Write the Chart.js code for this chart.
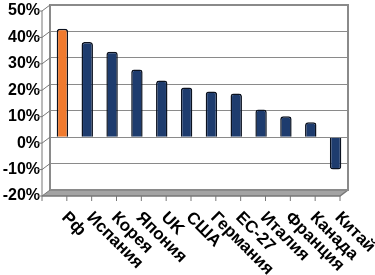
<!DOCTYPE html>
<html lang="ru">
<head>
  <meta charset="UTF-8">
  <title>Рост по странам</title>
  <script src="https://cdn.jsdelivr.net/npm/chart.js"></script>
  <style>
    html, body { margin: 0; padding: 0; background: #fff; }
    #caja { width: 375px; height: 275px; }
  </style>
</head>
<body>
  <div id="caja"><canvas id="grafico"></canvas></div>

  <script>
    // datos
    const paises = ['Рф', 'Испания', 'Корея', 'Япония', 'UK', 'США', 'Германия', 'ЕС-27', 'Италия', 'Франция', 'Канада', 'Китай'];
    const valores = [41, 36, 32.3, 25.6, 21.4, 18.8, 17.3, 16.5, 10.5, 7.9, 5.6, -12.2];
    const ticksY = [-20, -10, 0, 10, 20, 30, 40, 50];

    const fuente = '"Liberation Sans", Arial, sans-serif';
    const gris = '#8a8a8a';
    const dx = 8, dy = 6; // desplazamiento del plano frontal

    // paredes, suelo y ejes en falso 3D
    const marco3d = {
      id: 'marco3d',
      beforeDatasetsDraw(chart) {
        const { ctx, chartArea: a, scales } = chart;
        const L = a.left, R = a.right, T = a.top, B = a.bottom;
        ctx.save();
        // suelo
        ctx.fillStyle = '#a3a3a3';
        ctx.beginPath();
        ctx.moveTo(L, B);
        ctx.lineTo(R, B);
        ctx.lineTo(R - dx, B + dy);
        ctx.lineTo(L - dx, B + dy);
        ctx.closePath();
        ctx.fill();
        ctx.strokeStyle = '#777';
        ctx.lineWidth = 1.5;
        ctx.beginPath();
        ctx.moveTo(L - dx, B + dy);
        ctx.lineTo(R - dx, B + dy);
        ctx.lineTo(R, B);
        ctx.stroke();
        // pared del fondo
        ctx.strokeStyle = gris;
        ctx.lineWidth = 2;
        ctx.strokeRect(L, T, R - L, B - T);
        // eje frontal izquierdo
        ctx.lineWidth = 1;
        ctx.strokeStyle = '#777';
        ctx.beginPath();
        ctx.moveTo(L - dx, T + dy);
        ctx.lineTo(L - dx, B + dy);
        ticksY.forEach(v => {
          const y = scales.y.getPixelForValue(v);
          ctx.moveTo(L - dx - 4, y + dy);
          ctx.lineTo(L - dx, y + dy);
          ctx.lineTo(L, y);
        });
        // marcas del eje x
        const sx = scales.x;
        for (let i = 0; i <= paises.length; i++) {
          let bx;
          if (i === 0) bx = L;
          else if (i === paises.length) bx = R;
          else bx = (sx.getPixelForValue(i - 1) + sx.getPixelForValue(i)) / 2;
          ctx.moveTo(bx - dx, B + dy);
          ctx.lineTo(bx - dx, B + dy + 5);
        }
        ctx.stroke();
        ctx.restore();
      },
      afterDraw(chart) {
        const { ctx, chartArea: a, scales } = chart;
        ctx.save();
        ctx.fillStyle = '#000';
        ctx.font = 'bold 17px ' + fuente;
        ctx.textAlign = 'left';
        ctx.textBaseline = 'middle';
        paises.forEach((p, i) => {
          const x = scales.x.getPixelForValue(i);
          ctx.save();
          ctx.translate(x + 2, a.bottom + dy + 19);
          ctx.rotate(Math.PI / 4);
          ctx.fillText(p, 0, 0);
          ctx.restore();
        });
        ctx.restore();
      }
    };

    const ctx = document.getElementById('grafico').getContext('2d');
    new Chart(ctx, {
      type: 'bar',
      data: {
        labels: paises,
        datasets: [{
          data: valores,
          backgroundColor: (c) => c.dataIndex === 0 ? '#F07A2E' : '#1E3C6E',
          borderColor: '#0b1220',
          borderWidth: 1.5,
          borderRadius: 3,
          barPercentage: 0.46,
          categoryPercentage: 1
        }]
      },
      options: {
        responsive: true,
        maintainAspectRatio: false,
        animation: false,
        layout: { padding: { left: 0, top: 5, right: 27, bottom: 85 } },
        plugins: {
          legend: { display: false },
          tooltip: { enabled: false }
        },
        scales: {
          x: {
            ticks: { display: false },
            grid: { display: false },
            border: { display: false },
            afterFit: (s) => { s.height = 0; s.paddingLeft = 0; s.paddingRight = 0; }
          },
          y: {
            min: -20,
            max: 50,
            afterFit: (s) => { s.width = 50; s.paddingTop = 0; s.paddingBottom = 0; },
            afterBuildTicks: (s) => { s.ticks = ticksY.map(v => ({ value: v })); },
            ticks: {
              padding: 10,
              labelOffset: 6,
              color: '#000',
              font: { family: fuente, size: 16, weight: 'bold' },
              callback: (v) => v + '%'
            },
            grid: { color: gris, lineWidth: 1, drawTicks: false },
            border: { display: false }
          }
        }
      },
      plugins: [marco3d]
    });
  </script>
</body>
</html>
